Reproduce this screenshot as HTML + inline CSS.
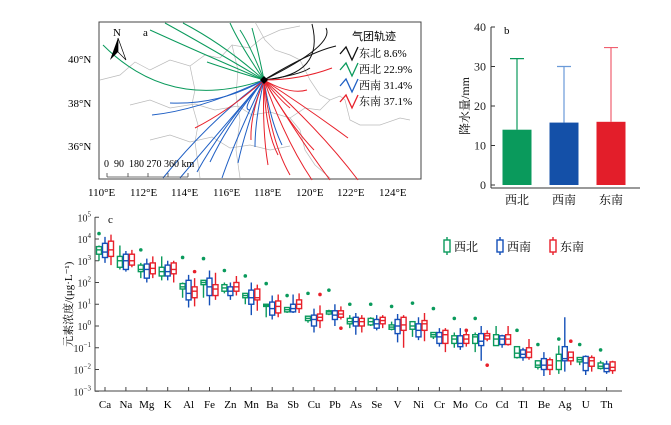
<!DOCTYPE html>
<html><head><meta charset="utf-8">
<style>
html,body{margin:0;padding:0;background:#fff;}
svg{display:block;font-family:"Liberation Serif","Noto Serif CJK SC",serif;}
</style></head>
<body>
<svg id="fig" width="671" height="425" viewBox="0 0 671 425" xmlns="http://www.w3.org/2000/svg">
  <g id="mapPanel">
    <rect x="99" y="22" width="322" height="157" fill="#fff" stroke="#444" stroke-width="1"/>
    <g stroke="#bbb" stroke-width="0.7" fill="none">
      <path d="M100 80 L120 75 L135 62 L150 70 L170 60 L190 66 L205 55 L220 58 L232 45 L250 48 L262 38 L280 30 L300 26"/>
      <path d="M130 105 L150 100 L170 108 L195 104 L215 110 L238 106 L252 115 L270 112 L290 118"/>
      <path d="M150 140 L170 135 L190 142 L212 137 L230 148 L250 145 L270 150 L290 146"/>
      <path d="M190 66 L195 90 L192 104 L198 125 L195 142 L200 178"/>
      <path d="M232 45 L238 70 L236 95 L240 120 L236 150 L240 178"/>
      <path d="M300 60 L310 80 L320 95 L330 100 L340 96 L345 100 L350 120 L360 125 L380 125 L400 118 L410 120"/>
      <path d="M290 118 L300 130 L305 150 L315 165 L330 178"/>
      <path d="M255 22 L265 40 L275 50 L290 55 L300 60"/>
      <path d="M330 100 L320 110 L305 108 L290 118"/>
    </g>
    <g fill="none" stroke-width="1">
      <g stroke="#0a9a5c">
        <path d="M264 80 Q170 112 103 45"/><path d="M264 80 Q205 45 165 23"/><path d="M264 80 Q225 45 183 23"/>
        <path d="M264 80 Q240 45 230 23"/><path d="M264 80 Q250 45 240 30"/><path d="M264 80 Q230 70 207 62"/>
        <path d="M264 80 Q258 50 252 28"/><path d="M264 80 Q205 55 150 30"/>
      </g>
      <g stroke="#111">
        <path d="M264 80 Q325 75 312 24"/><path d="M264 80 Q335 45 326 28"/><path d="M264 80 Q310 52 336 46"/><path d="M264 80 Q300 75 310 68"/>
      </g>
      <g stroke="#1f5fc4">
        <path d="M264 80 Q210 120 163 178"/><path d="M264 80 Q225 125 180 178"/><path d="M264 80 Q235 140 222 178"/>
        <path d="M264 80 Q245 130 238 163"/><path d="M264 80 Q255 120 255 147"/><path d="M264 80 Q270 120 282 145"/>
        <path d="M264 80 Q230 120 210 162"/><path d="M264 80 Q220 130 197 172"/><path d="M264 80 Q200 110 152 115"/>
        <path d="M264 80 Q220 105 170 103"/><path d="M264 80 Q240 110 250 110"/>
      </g>
      <g stroke="#e8202a">
        <path d="M264 80 Q300 80 332 68"/><path d="M264 80 Q290 95 307 90"/><path d="M264 80 Q280 100 290 108"/>
        <path d="M264 80 Q230 110 195 128"/><path d="M264 80 Q250 115 251 140"/><path d="M264 80 Q265 130 278 155"/>
        <path d="M264 80 Q290 125 314 150"/><path d="M264 80 Q310 110 348 138"/><path d="M264 80 Q320 130 358 180"/>
        <path d="M264 80 Q300 140 330 180"/><path d="M264 80 Q285 140 312 180"/><path d="M264 80 Q270 140 290 175"/>
        <path d="M264 80 Q262 130 268 165"/>
      </g>
      <polygon points="264,76 268,80 264,84 260,80" fill="#000" stroke="none"/>
    </g>
    <g>
      <text x="113" y="36" font-size="11">N</text>
      <polygon points="118,38 110,60 118,52" fill="#000"/>
      <polygon points="118,38 126,60 118,52" fill="none" stroke="#000" stroke-width="0.7"/>
    </g>
    <text x="143" y="36" font-size="11">a</text>
    <g>
      <text x="104" y="167" font-size="10">0 &#160;90 &#160;180 270 360 km</text>
      <path d="M107 177 H188 M107 173 V177 M128 173 V177 M148 173 V177 M168 173 V177 M188 173 V177" stroke="#444" stroke-width="0.8" fill="none"/>
    </g>
    <g font-size="11">
      <text x="352" y="40" font-family="'Noto Sans CJK SC',sans-serif" font-size="11">气团轨迹</text>
      <g><path d="M340 54 L346 47 L352 60 L358 47" stroke="#111" stroke-width="1.3" fill="none"/><text x="359" y="57">东北 8.6%</text></g>
      <g><path d="M340 70 L346 63 L352 76 L358 63" stroke="#0a9a5c" stroke-width="1.3" fill="none"/><text x="359" y="73">西北 22.9%</text></g>
      <g><path d="M340 86 L346 79 L352 92 L358 79" stroke="#1f5fc4" stroke-width="1.3" fill="none"/><text x="359" y="89">西南 31.4%</text></g>
      <g><path d="M340 102 L346 95 L352 108 L358 95" stroke="#e8202a" stroke-width="1.3" fill="none"/><text x="359" y="105">东南 37.1%</text></g>
    </g>
    <g font-size="11">
      <text x="68" y="63">40°N</text><text x="68" y="107">38°N</text><text x="68" y="150">36°N</text>
      <text x="88" y="196">110°E</text><text x="130" y="196">112°E</text><text x="171" y="196">114°E</text>
      <text x="213" y="196">116°E</text><text x="254" y="196">118°E</text><text x="296" y="196">120°E</text>
      <text x="337" y="196">122°E</text><text x="379" y="196">124°E</text>
    </g>
  </g>
  <g id="barPanel"></g>
  <g id="boxPanel"></g>
</svg>
<script>
const NS="http://www.w3.org/2000/svg";
function mk(parent,tag,attrs,txt){const e=document.createElementNS(NS,tag);for(const k in attrs)e.setAttribute(k,attrs[k]);if(txt!==undefined)e.textContent=txt;parent.appendChild(e);return e;}

const barCategories=["西北","西南","东南"];
const barValues=[14,15.8,16];
const barErrTop=[32,30,34.8];
const barTicks=[0,10,20,30,40];
const barColors=["#0a9a5c","#1450a8","#e31e2a"];
const errColors=["#0a9a5c","#6a9ad8","#f06070"];

const elements=["Ca","Na","Mg","K","Al","Fe","Zn","Mn","Ba","Sb","Cu","Pb","As","Se","V","Ni","Cr","Mo","Co","Cd","Tl","Be","Ag","U","Th"];
const nwMed=[3.5,3.0,2.6,2.5,1.8,2.0,1.75,1.4,0.95,0.75,0.35,0.65,0.2,0.2,-0.05,0.0,-0.4,-0.6,-0.5,-0.6,-1.25,-1.8,-1.6,-1.55,-1.85];
const nwQ1=[3.3,2.7,2.5,2.3,1.7,1.9,1.6,1.3,0.9,0.65,0.25,0.55,0.1,0.05,-0.15,-0.15,-0.5,-0.8,-0.8,-0.9,-1.45,-1.9,-2.0,-1.65,-1.95];
const nwQ3=[3.65,3.2,2.8,2.7,1.95,2.1,1.9,1.5,1.0,0.85,0.45,0.7,0.35,0.35,0.05,0.2,-0.3,-0.45,-0.4,-0.4,-0.95,-1.6,-1.3,-1.45,-1.7];
const nwMin=[3.0,2.6,2.2,2.1,1.3,1.3,1.5,1.0,0.4,0.6,0.15,0.5,-0.1,0.0,-0.2,-0.5,-0.6,-1.0,-1.2,-0.9,-1.5,-2.0,-2.2,-1.8,-2.0];
const nwMax=[3.7,3.7,2.9,3.2,2.0,2.1,2.0,1.5,1.0,0.85,0.45,0.75,0.5,0.4,0.2,0.2,-0.3,-0.3,-0.3,0.0,-0.95,-1.6,-0.9,-1.45,-1.6];
const nwOut=[4.25,null,3.5,null,3.15,3.1,2.55,2.3,1.95,1.4,1.5,1.65,1.0,1.0,0.9,1.05,0.8,0.35,0.35,null,-0.2,-0.85,-0.6,-0.85,-1.1];
const swMed=[3.4,3.0,2.6,2.5,1.5,1.8,1.6,1.3,0.8,0.8,0.3,0.5,0.2,0.1,0.0,-0.2,-0.5,-0.8,-0.7,-0.6,-1.3,-1.8,-1.5,-1.7,-1.95];
const swQ1=[3.15,2.6,2.2,2.3,1.2,1.4,1.4,1.0,0.5,0.65,0.0,0.3,0.0,-0.1,-0.35,-0.5,-0.8,-0.95,-0.9,-0.85,-1.45,-2.0,-1.6,-2.05,-2.1];
const swQ3=[3.8,3.3,2.85,2.8,2.1,2.2,1.8,1.65,1.1,1.0,0.5,0.7,0.4,0.3,0.3,0.1,-0.3,-0.45,-0.35,-0.45,-1.1,-1.5,-0.95,-1.4,-1.75];
const swMin=[2.9,2.5,2.0,2.1,0.85,0.95,1.2,0.5,0.3,0.6,-0.3,0.0,-0.4,-0.2,-0.75,-0.65,-0.95,-1.1,-1.6,-1.0,-1.6,-2.3,-2.1,-2.25,-2.2];
const swMax=[4.1,3.45,3.1,3.0,2.35,2.55,2.0,2.0,1.4,1.45,0.8,1.0,0.6,0.5,0.55,0.4,-0.1,-0.1,0.0,-0.4,-1.0,-1.2,0.4,-1.35,-1.6];
const seMed=[3.5,3.0,2.65,2.6,1.6,1.7,1.8,1.3,0.9,1.0,0.4,0.55,0.2,0.25,0.05,0.1,-0.4,-0.6,-0.45,-0.6,-1.2,-1.8,-1.45,-1.6,-1.9];
const seQ1=[3.2,2.8,2.4,2.4,1.3,1.4,1.6,1.2,0.6,0.8,0.25,0.4,0.0,0.1,-0.2,-0.2,-0.8,-0.8,-0.6,-0.85,-1.45,-2.0,-1.6,-1.85,-2.05];
const seQ3=[3.9,3.3,2.9,2.9,1.8,1.9,2.0,1.7,1.15,1.2,0.55,0.7,0.35,0.4,0.4,0.25,-0.2,-0.4,-0.35,-0.4,-1.0,-1.55,-1.2,-1.45,-1.65];
const seMin=[2.8,2.7,2.2,2.0,0.9,1.2,1.4,0.7,0.4,0.6,-0.1,0.3,-0.3,-0.1,-1.0,-0.7,-1.2,-0.95,-0.7,-0.9,-1.55,-2.25,-1.8,-2.1,-2.2];
const seMax=[4.2,3.5,3.2,3.0,2.2,2.45,2.3,1.9,1.45,1.5,0.95,0.9,0.5,0.5,0.5,0.6,-0.1,-0.2,-0.2,0.0,-0.6,-1.45,-1.2,-1.35,-1.6];
const seOut=[null,null,null,null,2.5,null,null,null,null,null,1.45,-0.1,null,null,null,null,null,-0.2,-1.8,null,null,null,-0.7,null,null];
const logTicks=[5,4,3,2,1,0,-1,-2,-3];

(function(){
  const g=document.getElementById('barPanel');
  const x0=491,yBase=185,yTop=27,vmax=40;
  const ys=v=>yBase-(v/vmax)*(yBase-yTop);
  const ax=mk(g,'path',{d:`M${x0} ${ys(40)} V${yBase+3} M${x0} ${yBase+3} H640`,stroke:'#333','stroke-width':1,fill:'none'});
  
  
  barTicks.forEach(t=>{
    const tk=mk(g,'path',{d:`M${x0} ${ys(t)} H${x0+4}`,stroke:'#333','stroke-width':1});
    
    
    const lb=mk(g,'text',{x:x0-5,y:ys(t)+4,'font-size':12,'text-anchor':'end',fill:'#222'},String(t));
    
    
  });
  const yl=mk(g,'text',{x:0,y:0,'font-size':12,'text-anchor':'middle',transform:`translate(469 ${ys(20)}) rotate(-90)`},'降水量/mm');
  
  
  const pl=mk(g,'text',{x:504,y:34,'font-size':11},'b');
  
  
  barCategories.forEach((c,i)=>{
    const cx=517+i*47,w=29;
    const e=mk(g,'path',{d:`M${cx} ${ys(barValues[i])} V${ys(barErrTop[i])} M${cx-7} ${ys(barErrTop[i])} H${cx+7}`,stroke:errColors[i],'stroke-width':1.2,fill:'none'});
    
    
    const r=mk(g,'rect',{x:cx-w/2,y:ys(barValues[i]),width:w,height:yBase-ys(barValues[i]),fill:barColors[i]});
    
    
    const t=mk(g,'text',{x:cx,y:204,'font-size':12,'text-anchor':'middle'},c);
    
    
  });
})();

(function(){
  const g=document.getElementById('boxPanel');
  const x0=95,xEnd=622,yAxis=391,yTopAx=217;
  const yl=v=>326-21.75*v;
  const xc=i=>105+i*20.9;
  const ax=mk(g,'path',{d:`M${x0} ${yTopAx} V${yAxis} H${xEnd}`,stroke:'#444','stroke-width':1,fill:'none'});
  
  
  logTicks.forEach(t=>{
    const tk=mk(g,'path',{d:`M${x0} ${yl(t)} H${x0+4}`,stroke:'#444'});
    
    
    const lb=mk(g,'text',{x:x0-4,y:yl(t)+4,'font-size':10,'text-anchor':'end',fill:'#222'});
    
    
    mk(lb,'tspan',{},'10');
    mk(lb,'tspan',{dy:-5,'font-size':7},String(t).replace('-','−'));
  });
  const ttl=mk(g,'text',{x:0,y:0,'font-size':11,'text-anchor':'middle',transform:`translate(72 ${yl(1)}) rotate(-90)`},'元素浓度/(μg·L⁻¹)');
  
  
  const pl=mk(g,'text',{x:108,y:223,'font-size':11},'c');
  
  
  const series=[
    {name:'nw',col:'#0a9a5c',med:nwMed,q1:nwQ1,q3:nwQ3,mn:nwMin,mx:nwMax,out:nwOut,off:-6},
    {name:'sw',col:'#1450b8',med:swMed,q1:swQ1,q3:swQ3,mn:swMin,mx:swMax,out:null,off:0},
    {name:'se',col:'#e8202a',med:seMed,q1:seQ1,q3:seQ3,mn:seMin,mx:seMax,out:seOut,off:6}
  ];
  elements.forEach((el,i)=>{
    const tk=mk(g,'path',{d:`M${xc(i)} ${yAxis} V${yAxis-4}`,stroke:'#444'});
    
    
    const lb=mk(g,'text',{x:xc(i),y:408,'font-size':11,'text-anchor':'middle'},el);
    
    
    series.forEach(s=>{
      const cx=xc(i)+s.off,w=5;
      const bg=mk(g,'g',{stroke:s.col,'stroke-width':1.4,fill:'none'});
      
      
      mk(bg,'path',{d:`M${cx} ${yl(s.mx[i])} V${yl(s.q3[i])} M${cx} ${yl(s.q1[i])} V${yl(s.mn[i])}`});
      mk(bg,'rect',{x:cx-w/2,y:yl(s.q3[i]),width:w,height:Math.max(1,yl(s.q1[i])-yl(s.q3[i]))});
      mk(bg,'path',{d:`M${cx-w/2} ${yl(s.med[i])} H${cx+w/2}`});
      if(s.out&&s.out[i]!==null){
        const d=mk(g,'circle',{cx:cx,cy:yl(s.out[i]),r:1.8,fill:s.col});
        
        
      }
    });
  });
  const leg=[["西北","#0a9a5c",447],["西南","#1450b8",500],["东南","#e8202a",553]];
  leg.forEach(l=>{
    const lg=mk(g,'g',{});
    
    
    mk(lg,'path',{d:`M${l[2]} 237 V255`,stroke:l[1],'stroke-width':1.4});
    mk(lg,'rect',{x:l[2]-3,y:240,width:6,height:12,fill:'#fff',stroke:l[1],'stroke-width':1.4});
    mk(lg,'text',{x:l[2]+7,y:251,'font-size':12,'font-family':"'Noto Serif CJK SC',serif"},l[0]);
  });
})();
</script>
</body></html>
